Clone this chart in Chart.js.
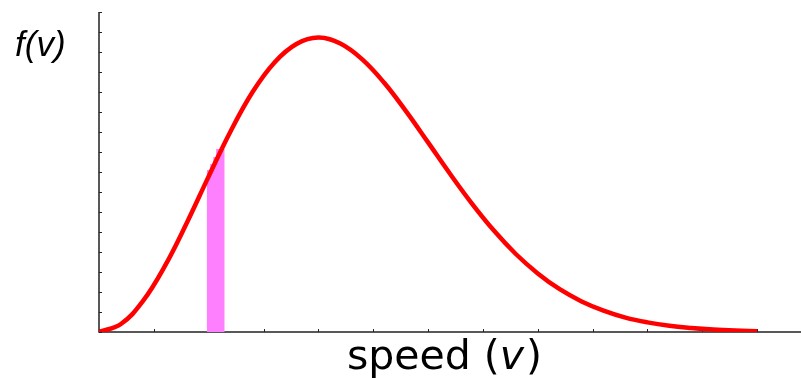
<!DOCTYPE html>
<html>
<head>
<meta charset="utf-8">
<script src="https://cdn.jsdelivr.net/npm/chart.js@4/dist/chart.umd.min.js"></script>
<style>
  html, body { margin: 0; padding: 0; background: #fff; }
  #wrap { width: 801px; height: 378px; }
</style>
</head>
<body>
<div id="wrap"><canvas id="speedChart"></canvas></div>
<script>
// speed in units of the most probable speed, f(v) in y-tick units
var speeds = [0, 0.1, 0.2, 0.3, 0.4, 0.5, 0.6, 0.7, 0.8, 0.9, 1.0,
              1.1, 1.2, 1.3, 1.4, 1.5, 1.6, 1.7, 1.8, 1.9, 2.0,
              2.1, 2.2, 2.3, 2.4, 2.5, 2.6, 2.7, 2.8, 2.9, 3.0];
var density = [0, 0.40, 1.54, 3.29, 5.45, 7.78, 10.04, 12.00, 13.48, 14.40, 14.72,
               14.42, 13.63, 12.46, 11.03, 9.48, 7.91, 6.42, 5.07, 3.90, 2.93,
               2.14, 1.53, 1.07, 0.72, 0.48, 0.31, 0.20, 0.12, 0.07, 0.04];

// the shaded slice under the curve
var sliceSpeeds = [0.491, 0.507, 0.521, 0.534, 0.548, 0.573];
var sliceHeights = [7.8, 8.1, 8.4, 8.75, 9.15, 9.15];

var curvePts = [];
for (var i = 0; i < speeds.length; i++) {
  curvePts.push({x: speeds[i], y: density[i]});
}
var slicePts = [];
for (var j = 0; j < sliceSpeeds.length; j++) {
  slicePts.push({x: sliceSpeeds[j], y: sliceHeights[j]});
}

var axisPlugin = {
  id: 'axisPlugin',
  beforeDatasetsDraw: function(chart) {
    var ctx = chart.ctx;
    var xs = chart.scales.x, ys = chart.scales.y;
    var a = chart.chartArea;
    ctx.save();
    ctx.strokeStyle = '#222';
    ctx.lineWidth = 1.5;
    ctx.beginPath();
    ctx.moveTo(a.left, a.top);
    ctx.lineTo(a.left, a.bottom);
    ctx.lineTo(a.right, a.bottom);
    ctx.stroke();
    ctx.lineWidth = 1;
    ctx.beginPath();
    ys.ticks.forEach(function(t) {
      var py = Math.round(ys.getPixelForValue(t.value)) + 0.5;
      ctx.moveTo(a.left, py);
      ctx.lineTo(a.left + 3, py);
    });
    xs.ticks.forEach(function(t) {
      var px = Math.round(xs.getPixelForValue(t.value)) + 0.5;
      ctx.moveTo(px, a.bottom);
      ctx.lineTo(px, a.bottom - 3);
    });
    ctx.stroke();
    ctx.restore();
  },
  afterDraw: function(chart) {
    var ctx = chart.ctx;
    ctx.save();
    ctx.fillStyle = '#000';
    ctx.textBaseline = 'alphabetic';
    ctx.textAlign = 'left';
    ctx.font = 'italic 35px "Liberation Sans"';
    ctx.fillText('f(v)', 15, 56);

    var normal = '41px "DejaVu Sans"';
    var ital = 'oblique 41px "DejaVu Sans"';
    ctx.font = normal;
    var w1 = ctx.measureText('speed (').width;
    var w3 = ctx.measureText(')').width;
    ctx.font = ital;
    var w2 = ctx.measureText('v').width;
    var x0 = 443.5 - (w1 + w2 + w3) / 2;
    ctx.font = normal;
    ctx.fillText('speed (', x0, 369);
    ctx.font = ital;
    ctx.fillText('v', x0 + w1, 369);
    ctx.font = normal;
    ctx.fillText(')', x0 + w1 + w2 + 2, 369);
    ctx.restore();
  }
};

var ctx = document.getElementById('speedChart');
var chart = new Chart(ctx, {
  type: 'line',
  data: {
    datasets: [
      {
        label: 'f(v)',
        data: curvePts,
        borderColor: '#ff0000',
        borderWidth: 4.5,
        pointRadius: 0,
        tension: 0.4,
        fill: false,
        order: 1
      },
      {
        label: 'slice',
        data: slicePts,
        stepped: 'after',
        borderColor: '#ff80ff',
        borderWidth: 0,
        backgroundColor: '#ff80ff',
        pointRadius: 0,
        fill: 'origin',
        order: 2
      }
    ]
  },
  options: {
    responsive: true,
    maintainAspectRatio: false,
    animation: false,
    layout: { padding: { left: 99, top: 12, right: 0, bottom: 46 } },
    plugins: { legend: { display: false }, tooltip: { enabled: false } },
    scales: {
      x: { type: 'linear', display: false, min: 0, max: 3.2, ticks: { stepSize: 0.25 } },
      y: { type: 'linear', display: false, min: 0, max: 16, ticks: { stepSize: 1 } }
    }
  },
  plugins: [axisPlugin]
});
</script>
</body>
</html>
